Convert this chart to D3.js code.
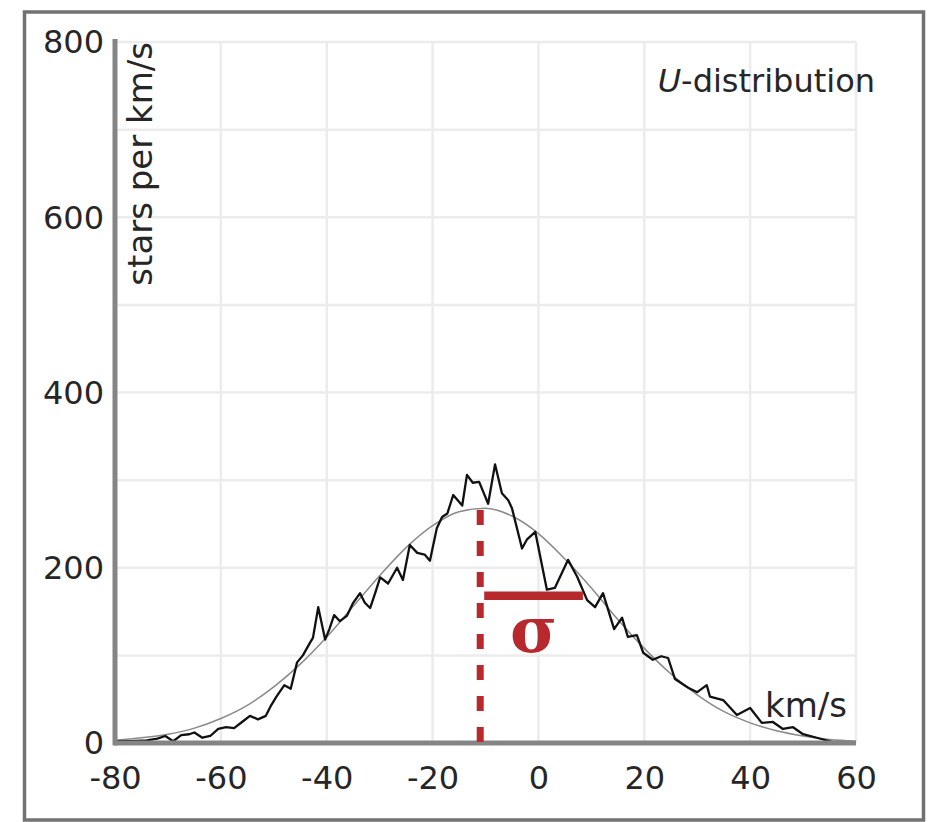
<!DOCTYPE html>
<html><head><meta charset="utf-8">
<script src="https://cdn.jsdelivr.net/npm/d3@7"></script>
<style>html,body{margin:0;padding:0;background:#fff;}svg{display:block;}</style>
</head><body>
<script>
// ---- data ----
const xTicks = [-80, -60, -40, -20, 0, 20, 40, 60];
const yTicks = [0, 200, 400, 600, 800];
const yGrid = [100, 200, 300, 400, 500, 600, 700, 800];
const xGrid = [-60, -40, -20, 0, 20, 40, 60];

// measured U-velocity histogram (km/s, stars per km/s)
const obsKms = [-80,-77,-74,-72,-70.5,-69,-67.5,-66,-65,-63.5,-62,-60.5,-59,-57.5,-56,-54.5,-53,-51.5,-50.5,-49.5,-48,-46.8,-45.6,-44.5,-43.2,-42.6,-41.6,-40.3,-39.5,-38.6,-37.5,-36.2,-35,-33.7,-32.8,-31.8,-30.8,-29.9,-28.4,-26.7,-25.6,-24.3,-22.9,-21.5,-20.5,-19.2,-18.2,-17.2,-16.1,-14.4,-13.5,-12.4,-11.2,-9.5,-8.2,-6.9,-5.7,-5,-3.1,-2.2,-0.6,1.6,3.1,5.6,7.3,9.2,10.7,12.2,14.3,15.8,16.9,18.6,19.8,21.6,23.2,24.5,25.8,28.3,30,31.8,32.4,34.9,37.5,40,42.2,44.3,46.2,48.1,50,52.6,55.6,60];
const obsCount = [2,2,3,5,8,2,9,10,12,6,8,16,18,17,24,31,27,31,43,53,66,62,92,100,114,120,155,118,130,146,139,145,160,171,160,154,172,189,182,200,186,226,217,215,208,245,258,262,283,271,306,297,298,273,318,285,277,268,222,232,241,175,177,209,190,163,155,171,130,143,121,123,103,95,99,97,73,63,58,66,53,49,32,40,23,24,16,18,10,6,1,1];

// fitted normal curve
const fitKms = [-80,-75,-70,-65,-60,-55,-50,-45,-40,-35,-30,-25,-20,-15,-10,-5,0,5,10,15,20,25,30,35,40,45,50,55,60];
const fitCount = [3,6,10,17,28,43,64,90,121,156,191,223,248,264,268,259,239,210,177,141,108,79,55,36,23,14,8,4,2];

const meanU = -11;      // km/s
const sigmaU = 19.4;    // km/s
const sigmaLevel = 168; // stars per km/s
const peakLevel = 268;

const W = 938, H = 822;
const svg = d3.select("body").append("svg").attr("width", W).attr("height", H);

// frame
svg.append("rect").attr("x", 24.5).attr("y", 12).attr("width", 899).attr("height", 808)
  .attr("fill", "none").attr("stroke", "#727272").attr("stroke-width", 3.5);

const x = d3.scaleLinear().domain([-80, 60]).range([115, 856]);
const y = d3.scaleLinear().domain([0, 800]).range([743, 42]);

const font = "'DejaVu Sans', Verdana, sans-serif";
const txt = "#262626";

// grid
const g = svg.append("g");
g.selectAll(".vg").data(xGrid).join("line")
  .attr("x1", d => x(d)).attr("x2", d => x(d)).attr("y1", y(800)).attr("y2", y(0))
  .attr("stroke", "#ececec").attr("stroke-width", 2.5);
g.selectAll(".hg").data(yGrid).join("line")
  .attr("x1", x(-80)).attr("x2", x(60)).attr("y1", d => y(d)).attr("y2", d => y(d))
  .attr("stroke", "#ececec").attr("stroke-width", 2.5);

// axes via d3 axis, styled
const xAxis = d3.axisBottom(x).tickValues(xTicks).tickSize(0).tickPadding(0).tickFormat(d => String(d));
const xa = svg.append("g").attr("transform", `translate(0,${y(0)})`).call(xAxis);
xa.select(".domain").remove();
xa.selectAll("text").attr("font-family", font).attr("font-size", 32).attr("fill", txt)
  .attr("dy", null).attr("y", 46);

const yAxis = d3.axisLeft(y).tickValues(yTicks).tickSize(0).tickPadding(0).tickFormat(d => String(d));
const ya = svg.append("g").attr("transform", `translate(${x(-80)},0)`).call(yAxis);
ya.select(".domain").remove();
ya.selectAll("text").attr("font-family", font).attr("font-size", 32).attr("fill", txt)
  .attr("x", -11).attr("dy", "0.34em");

// fit curve
svg.append("path").datum(fitKms.map((k, i) => [k, fitCount[i]]))
  .attr("d", d3.line().x(d => x(d[0])).y(d => y(d[1])).curve(d3.curveMonotoneX)).attr("fill", "none")
  .attr("stroke", "#8a8a8a").attr("stroke-width", 1.5);

// observed
svg.append("path").datum(obsKms.map((k, i) => [k, obsCount[i]]))
  .attr("d", d3.line().x(d => x(d[0])).y(d => y(d[1]))).attr("fill", "none")
  .attr("stroke", "#111").attr("stroke-width", 2.3).attr("stroke-linejoin", "round");

// axis lines
svg.append("line").attr("x1", x(-80)).attr("x2", x(-80)).attr("y1", y(800) - 3).attr("y2", y(0) + 2.5)
  .attr("stroke", "#858585").attr("stroke-width", 5);
svg.append("line").attr("x1", x(-80)).attr("x2", x(60)).attr("y1", y(0)).attr("y2", y(0))
  .attr("stroke", "#858585").attr("stroke-width", 5);

// red annotations
const red = "#b7292c";
svg.append("line").attr("x1", x(meanU)).attr("x2", x(meanU)).attr("y1", y(0) - 1).attr("y2", y(peakLevel))
  .attr("stroke", red).attr("stroke-width", 7).attr("stroke-dasharray", "15,16");
svg.append("line").attr("x1", x(meanU) + 4).attr("x2", x(meanU + sigmaU)).attr("y1", y(sigmaLevel)).attr("y2", y(sigmaLevel))
  .attr("stroke", red).attr("stroke-width", 8.5);
svg.append("text").attr("x", x(meanU + sigmaU / 2) + 2).attr("y", 652).attr("text-anchor", "middle")
  .attr("font-family", "'DejaVu Serif', serif").attr("font-weight", "bold").attr("font-size", 64)
  .attr("fill", red).text("σ");

// labels
svg.append("text").attr("transform", `translate(152,42) rotate(-90)`).attr("text-anchor", "end")
  .attr("font-family", font).attr("font-size", 34).attr("fill", txt).text("stars per km/s");

const ud = svg.append("text").attr("x", 875).attr("y", 92).attr("text-anchor", "end")
  .attr("font-family", font).attr("font-size", 32).attr("fill", txt);
ud.append("tspan").attr("font-style", "italic").text("U");
ud.append("tspan").text("-distribution");

svg.append("text").attr("x", 847).attr("y", 717).attr("text-anchor", "end")
  .attr("font-family", font).attr("font-size", 34).attr("fill", txt).text("km/s");
</script>
</body></html>
